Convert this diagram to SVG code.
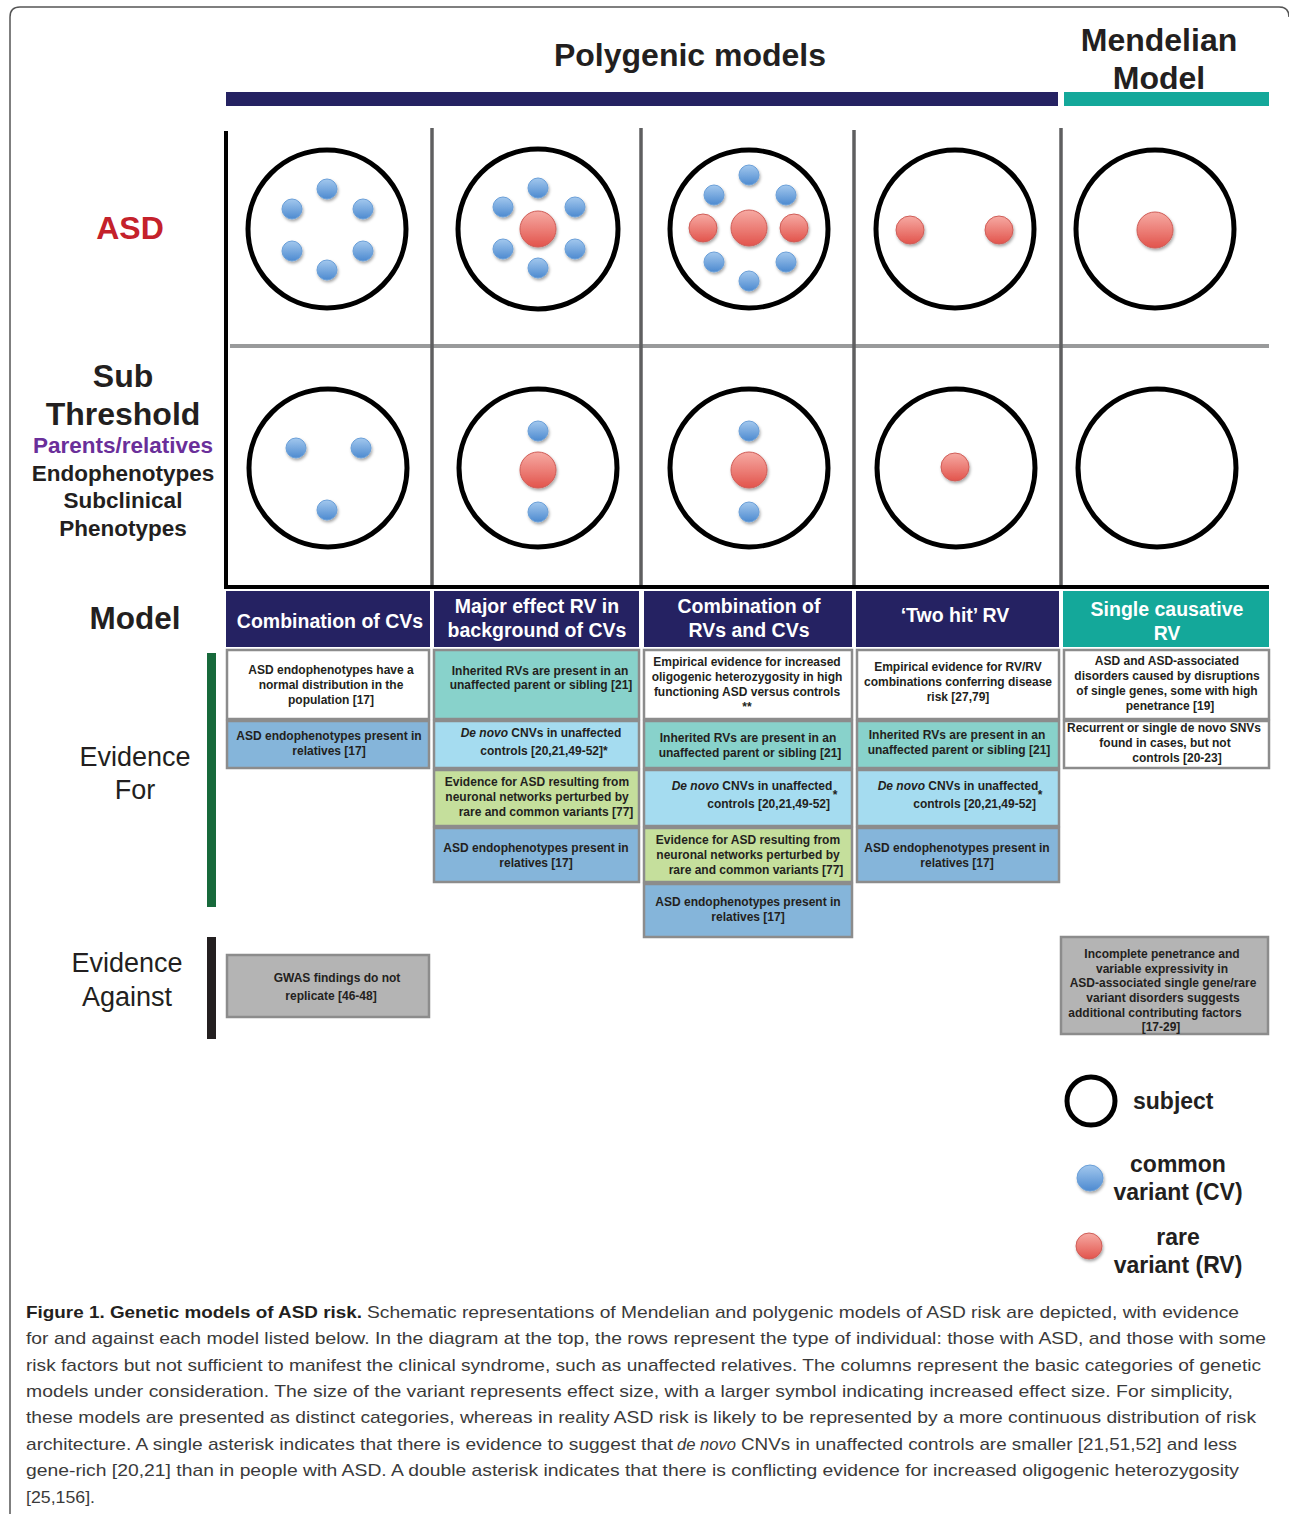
<svg xmlns="http://www.w3.org/2000/svg" width="1289" height="1514" viewBox="0 0 1289 1514">
<defs>
<linearGradient id="gb" x1="0" y1="0" x2="0" y2="1"><stop offset="0" stop-color="#a3c8ee"/><stop offset="1" stop-color="#4d8ad0"/></linearGradient>
<linearGradient id="gr" x1="0" y1="0" x2="0" y2="1"><stop offset="0" stop-color="#f6aaa3"/><stop offset="1" stop-color="#e2544c"/></linearGradient>
<filter id="sh" x="-50%" y="-50%" width="200%" height="200%"><feDropShadow dx="1" dy="2" stdDeviation="1.5" flood-color="#000" flood-opacity="0.35"/></filter>
<style>
.t{font-family:"Liberation Sans",Arial,sans-serif;fill:#231f20}
.b{font-weight:bold}
.subj{fill:none;stroke:#000;stroke-width:5}
.cv{fill:url(#gb);stroke:#6a9fd8;stroke-width:1;filter:url(#sh)}
.rv{fill:url(#gr);stroke:#cf5d57;stroke-width:1;filter:url(#sh)}
.bx{stroke:#8c8c8c;stroke-width:2.5}
.wh{fill:#ffffff}.bl{fill:#85b5da}.tl{fill:#88d2cb}.lb{fill:#a5dcf0}.gn{fill:#c5df9c}.gy{fill:#b4b4b4}
.et{font-family:"Liberation Sans",Arial,sans-serif;font-weight:bold;font-size:12px;fill:#231f20;text-anchor:middle}
.hd{font-family:"Liberation Sans",Arial,sans-serif;font-weight:bold;font-size:19.5px;fill:#fff;text-anchor:middle}
.gl{stroke:#5f5f60;stroke-width:3.5}
.cap{font-family:"Liberation Sans",Arial,sans-serif;font-size:17px;fill:#3a3a3a}
.capb{font-family:"Liberation Sans",Arial,sans-serif;font-size:17px;font-weight:bold;fill:#231f20}
</style>
</defs>
<rect width="1289" height="1514" fill="#fff"/>
<path d="M10,1514 V17 Q10,7 20,7 H1279 Q1289,7 1289,17" fill="none" stroke="#555" stroke-width="1.5"/>

<g id="header">
<text class="t b" x="690" y="66" font-size="32" text-anchor="middle">Polygenic models</text>
<rect x="226" y="92" width="832" height="14" fill="#252262"/>
<text class="t b" x="1159" y="51" font-size="32" text-anchor="middle">Mendelian</text>
<text class="t b" x="1159" y="89" font-size="32" text-anchor="middle">Model</text>
<rect x="1064" y="92" width="205" height="14" fill="#14a89a"/>
</g>

<g id="row-labels">
<text class="t b" x="130" y="239" font-size="32" text-anchor="middle" style="fill:#c4212b">ASD</text>
<text class="t b" x="123" y="387" font-size="32" text-anchor="middle">Sub</text>
<text class="t b" x="123" y="425" font-size="32" text-anchor="middle">Threshold</text>
<text class="t b" x="123" y="453" font-size="22.5" text-anchor="middle" style="fill:#6a2f9a">Parents/relatives</text>
<text class="t b" x="123" y="481" font-size="22.5" text-anchor="middle">Endophenotypes</text>
<text class="t b" x="123" y="508" font-size="22.5" text-anchor="middle">Subclinical</text>
<text class="t b" x="123" y="536" font-size="22.5" text-anchor="middle">Phenotypes</text>
<text class="t b" x="135" y="629" font-size="31.5" text-anchor="middle">Model</text>
<text class="t" x="135" y="766" font-size="27" text-anchor="middle">Evidence</text>
<text class="t" x="135" y="799" font-size="27" text-anchor="middle">For</text>
<rect x="207" y="653" width="9" height="254" fill="#17693b"/>
<text class="t" x="127" y="972" font-size="27" text-anchor="middle">Evidence</text>
<text class="t" x="127" y="1006" font-size="27" text-anchor="middle">Against</text>
<rect x="207" y="937" width="9" height="102" fill="#231f20"/>
</g>

<g id="grid">
<line x1="230" y1="346" x2="1269" y2="346" stroke="#999a9b" stroke-width="4"/>
<line class="gl" x1="432" y1="128" x2="432" y2="586"/>
<line class="gl" x1="641" y1="128" x2="641" y2="586"/>
<line class="gl" x1="854" y1="130" x2="854" y2="586"/>
<line class="gl" x1="1061" y1="128" x2="1061" y2="586"/>
<line x1="226" y1="131" x2="226" y2="588" stroke="#000" stroke-width="4"/>
<line x1="224" y1="587" x2="1269" y2="587" stroke="#000" stroke-width="4"/>
</g>

<g id="asd-cvs">
<circle class="subj" cx="327" cy="229" r="79"/>
<circle class="cv" cx="327" cy="189" r="10"/><circle class="cv" cx="292" cy="209" r="10"/><circle class="cv" cx="363" cy="209" r="10"/>
<circle class="cv" cx="292" cy="251" r="10"/><circle class="cv" cx="363" cy="251" r="10"/><circle class="cv" cx="327" cy="270" r="10"/>
</g>
<g id="asd-major">
<circle class="subj" cx="538" cy="229" r="80"/>
<circle class="cv" cx="538" cy="188" r="10"/><circle class="cv" cx="503" cy="207" r="10"/><circle class="cv" cx="575" cy="207" r="10"/>
<circle class="cv" cx="503" cy="249" r="10"/><circle class="cv" cx="575" cy="249" r="10"/><circle class="cv" cx="538" cy="268" r="10"/>
<circle class="rv" cx="538" cy="229" r="18"/>
</g>
<g id="asd-combo">
<circle class="subj" cx="749" cy="229" r="79"/>
<circle class="cv" cx="749" cy="175" r="10"/><circle class="cv" cx="714" cy="195" r="10"/><circle class="cv" cx="786" cy="195" r="10"/>
<circle class="cv" cx="714" cy="262" r="10"/><circle class="cv" cx="786" cy="262" r="10"/><circle class="cv" cx="749" cy="281" r="10"/>
<circle class="rv" cx="703" cy="228" r="14"/><circle class="rv" cx="794" cy="228" r="14"/><circle class="rv" cx="749" cy="228" r="18"/>
</g>
<g id="asd-twohit">
<circle class="subj" cx="955" cy="229" r="79"/>
<circle class="rv" cx="910" cy="230" r="14"/><circle class="rv" cx="999" cy="230" r="14"/>
</g>
<g id="asd-single">
<circle class="subj" cx="1155" cy="229" r="79"/>
<circle class="rv" cx="1155" cy="230" r="18"/>
</g>

<g id="sub-cvs">
<circle class="subj" cx="328" cy="468" r="79"/>
<circle class="cv" cx="296" cy="448" r="10"/><circle class="cv" cx="361" cy="448" r="10"/><circle class="cv" cx="327" cy="510" r="10"/>
</g>
<g id="sub-major">
<circle class="subj" cx="538" cy="468" r="79"/>
<circle class="cv" cx="538" cy="431" r="10"/><circle class="rv" cx="538" cy="470" r="18"/><circle class="cv" cx="538" cy="512" r="10"/>
</g>
<g id="sub-combo">
<circle class="subj" cx="749" cy="468" r="79"/>
<circle class="cv" cx="749" cy="431" r="10"/><circle class="rv" cx="749" cy="470" r="18"/><circle class="cv" cx="749" cy="512" r="10"/>
</g>
<g id="sub-twohit">
<circle class="subj" cx="956" cy="468" r="79"/>
<circle class="rv" cx="955" cy="467" r="14"/>
</g>
<g id="sub-single">
<circle class="subj" cx="1157" cy="468" r="79"/>
</g>

<g id="model-headers">
<rect x="226" y="591" width="204" height="56" fill="#252262"/>
<text class="hd" x="330" y="628">Combination of CVs</text>
<rect x="434" y="591" width="205" height="56" fill="#252262"/>
<text class="hd" x="537" y="613">Major effect RV in</text>
<text class="hd" x="537" y="637">background of CVs</text>
<rect x="644" y="591" width="208" height="56" fill="#252262"/>
<text class="hd" x="749" y="613">Combination of</text>
<text class="hd" x="749" y="637">RVs and CVs</text>
<rect x="856" y="591" width="203" height="56" fill="#252262"/>
<text class="hd" x="955" y="622">‘Two hit’ RV</text>
<rect x="1063" y="591" width="206" height="56" fill="#14a89a"/>
<text class="hd" x="1167" y="616">Single causative</text>
<text class="hd" x="1167" y="640">RV</text>
</g>

<g id="ev-cvs">
<rect class="bx wh" x="227" y="650" width="202" height="69"/>
<text class="et" x="331" y="674">ASD endophenotypes have a</text>
<text class="et" x="331" y="689">normal distribution in the</text>
<text class="et" x="331" y="704">population [17]</text>
<rect class="bx bl" x="227" y="721" width="202" height="47"/>
<text class="et" x="329" y="740">ASD endophenotypes present in</text>
<text class="et" x="329" y="755">relatives [17]</text>
</g>
<g id="ev-major">
<rect class="bx tl" x="434" y="650" width="205" height="69"/>
<text class="et" x="540" y="675">Inherited RVs are present in an</text>
<text class="et" x="541" y="689">unaffected parent or sibling [21]</text>
<rect class="bx lb" x="434" y="721" width="205" height="47"/>
<text class="et" x="541" y="737"><tspan font-style="italic">De novo</tspan> CNVs in unaffected</text>
<text class="et" x="544" y="755">controls [20,21,49-52]*</text>
<rect class="bx gn" x="434" y="770" width="205" height="56"/>
<text class="et" x="537" y="786">Evidence for ASD resulting from</text>
<text class="et" x="537" y="801">neuronal networks perturbed by</text>
<text class="et" x="546" y="816">rare and common variants [77]</text>
<rect class="bx bl" x="434" y="828" width="205" height="54"/>
<text class="et" x="536" y="852">ASD endophenotypes present in</text>
<text class="et" x="536" y="867">relatives [17]</text>
</g>
<g id="ev-combo">
<rect class="bx wh" x="644" y="650" width="208" height="69"/>
<text class="et" x="747" y="666">Empirical evidence for increased</text>
<text class="et" x="747" y="681">oligogenic heterozygosity in high</text>
<text class="et" x="747" y="696">functioning ASD versus controls</text>
<text class="et" x="747" y="711">**</text>
<rect class="bx tl" x="644" y="721" width="208" height="47"/>
<text class="et" x="748" y="742">Inherited RVs are present in an</text>
<text class="et" x="750" y="757">unaffected parent or sibling [21]</text>
<rect class="bx lb" x="644" y="770" width="208" height="56"/>
<text class="et" x="752" y="790"><tspan font-style="italic">De novo</tspan> CNVs in unaffected</text>
<text class="et" x="830" y="808" style="text-anchor:end">controls [20,21,49-52]</text>
<text class="et" x="835" y="799" font-size="10">*</text>
<rect class="bx gn" x="644" y="828" width="208" height="54"/>
<text class="et" x="748" y="844">Evidence for ASD resulting from</text>
<text class="et" x="748" y="859">neuronal networks perturbed by</text>
<text class="et" x="756" y="874">rare and common variants [77]</text>
<rect class="bx bl" x="644" y="884" width="208" height="53"/>
<text class="et" x="748" y="906">ASD endophenotypes present in</text>
<text class="et" x="748" y="921">relatives [17]</text>
</g>
<g id="ev-twohit">
<rect class="bx wh" x="857" y="650" width="202" height="69"/>
<text class="et" x="958" y="671">Empirical evidence for RV/RV</text>
<text class="et" x="958" y="686">combinations conferring disease</text>
<text class="et" x="958" y="701">risk [27,79]</text>
<rect class="bx tl" x="857" y="721" width="202" height="47"/>
<text class="et" x="957" y="739">Inherited RVs are present in an</text>
<text class="et" x="959" y="754">unaffected parent or sibling [21]</text>
<rect class="bx lb" x="857" y="770" width="202" height="56"/>
<text class="et" x="958" y="790"><tspan font-style="italic">De novo</tspan> CNVs in unaffected</text>
<text class="et" x="1036" y="808" style="text-anchor:end">controls [20,21,49-52]</text>
<text class="et" x="1040" y="799" font-size="10">*</text>
<rect class="bx bl" x="857" y="828" width="202" height="54"/>
<text class="et" x="957" y="852">ASD endophenotypes present in</text>
<text class="et" x="957" y="867">relatives [17]</text>
</g>
<g id="ev-single">
<rect class="bx wh" x="1064" y="650" width="205" height="69"/>
<text class="et" x="1167" y="665">ASD and ASD-associated</text>
<text class="et" x="1167" y="680">disorders caused by disruptions</text>
<text class="et" x="1167" y="695">of single genes, some with high</text>
<text class="et" x="1170" y="710">penetrance [19]</text>
<rect class="bx wh" x="1064" y="721" width="205" height="47"/>
<text class="et" x="1164" y="732">Recurrent or single de novo SNVs</text>
<text class="et" x="1165" y="747">found in cases, but not</text>
<text class="et" x="1177" y="762">controls [20-23]</text>
</g>
<g id="against-cvs">
<rect class="bx gy" x="227" y="955" width="202" height="62"/>
<text class="et" x="337" y="982">GWAS findings do not</text>
<text class="et" x="331" y="1000">replicate [46-48]</text>
</g>
<g id="against-single">
<rect class="bx gy" x="1061" y="937" width="207" height="97"/>
<text class="et" x="1162" y="958">Incomplete penetrance and</text>
<text class="et" x="1162" y="973">variable expressivity in</text>
<text class="et" x="1163" y="987">ASD-associated single gene/rare</text>
<text class="et" x="1163" y="1002">variant disorders suggests</text>
<text class="et" x="1155" y="1017">additional contributing factors</text>
<text class="et" x="1161" y="1031">[17-29]</text>
</g>

<g id="legend">
<circle class="subj" cx="1091" cy="1101" r="24"/>
<text class="t b" x="1133" y="1109" font-size="23">subject</text>
<circle class="cv" cx="1090" cy="1178" r="13"/>
<text class="t b" x="1178" y="1172" font-size="23" text-anchor="middle">common</text>
<text class="t b" x="1178" y="1200" font-size="23" text-anchor="middle">variant (CV)</text>
<circle class="rv" cx="1089" cy="1246" r="13"/>
<text class="t b" x="1178" y="1245" font-size="23" text-anchor="middle">rare</text>
<text class="t b" x="1178" y="1273" font-size="23" text-anchor="middle">variant (RV)</text>
</g>

<g id="caption">
<text class="capb" x="26" y="1318" textLength="336" lengthAdjust="spacingAndGlyphs">Figure 1. Genetic models of ASD risk.</text>
<text class="cap" x="367" y="1318" textLength="872" lengthAdjust="spacingAndGlyphs">Schematic representations of Mendelian and polygenic models of ASD risk are depicted, with evidence</text>
<text class="cap" x="26" y="1344" textLength="1240" lengthAdjust="spacingAndGlyphs">for and against each model listed below. In the diagram at the top, the rows represent the type of individual: those with ASD, and those with some</text>
<text class="cap" x="26" y="1371" textLength="1235" lengthAdjust="spacingAndGlyphs">risk factors but not sufficient to manifest the clinical syndrome, such as unaffected relatives. The columns represent the basic categories of genetic</text>
<text class="cap" x="26" y="1397" textLength="1207" lengthAdjust="spacingAndGlyphs">models under consideration. The size of the variant represents effect size, with a larger symbol indicating increased effect size. For simplicity,</text>
<text class="cap" x="26" y="1423" textLength="1230" lengthAdjust="spacingAndGlyphs">these models are presented as distinct categories, whereas in reality ASD risk is likely to be represented by a more continuous distribution of risk</text>
<text class="cap" x="26" y="1450" textLength="647" lengthAdjust="spacingAndGlyphs">architecture. A single asterisk indicates that there is evidence to suggest that</text>
<text class="cap" x="677" y="1450" textLength="59" lengthAdjust="spacingAndGlyphs" font-style="italic">de novo</text>
<text class="cap" x="741" y="1450" textLength="496" lengthAdjust="spacingAndGlyphs">CNVs in unaffected controls are smaller [21,51,52] and less</text>
<text class="cap" x="26" y="1476" textLength="1213" lengthAdjust="spacingAndGlyphs">gene-rich [20,21] than in people with ASD. A double asterisk indicates that there is conflicting evidence for increased oligogenic heterozygosity</text>
<text class="cap" x="26" y="1503" textLength="69" lengthAdjust="spacingAndGlyphs">[25,156].</text>
</g>
</svg>
